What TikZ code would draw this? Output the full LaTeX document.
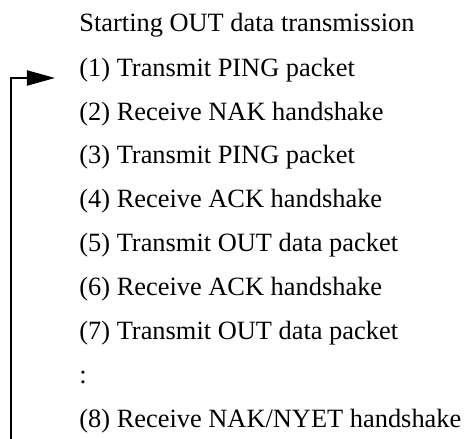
\documentclass[tikz,border=0pt]{standalone}
\usepackage{fontspec}
\setmainfont{Liberation Serif}
\usepackage{tikz}
\usetikzlibrary{arrows.meta, positioning}

\begin{document}
\begin{tikzpicture}[
  entry/.style={anchor=base west, inner sep=0pt,
                font=\fontsize{13.2}{15}\selectfont},
  back/.style={-{Triangle[length=14pt, width=7.5pt]}, line width=1pt},
  node distance=22pt
]
  \useasboundingbox (0,0) rectangle (234pt,-219.5pt);

  \node[entry] (s) at (39.5pt,-16pt) {Starting OUT data transmission};
  \node[below=of s.base west,  entry] (l1) {(1) Transmit PING packet};
  \node[below=of l1.base west, entry] (l2) {(2) Receive NAK handshake};
  \node[below=of l2.base west, entry] (l3) {(3) Transmit PING packet};
  \node[below=of l3.base west, entry] (l4) {(4) Receive ACK handshake};
  \node[below=of l4.base west, entry] (l5) {(5) Transmit OUT data packet};
  \node[below=of l5.base west, entry] (l6) {(6) Receive ACK handshake};
  \node[below=of l6.base west, entry] (l7) {(7) Transmit OUT data packet};
  \node[below=of l7.base west, entry] (dots) {:};
  \node[below=of dots.base west, entry] (l8) {(8) Receive NAK/NYET handshake};

  % loop back to step (1)
  \coordinate (bot) at (5.5pt,-219.5pt);
  \coordinate (tip) at ([xshift=-12pt,yshift=-1pt]l1.base west);
  \draw[back] (bot) |- (tip);
\end{tikzpicture}
\end{document}
